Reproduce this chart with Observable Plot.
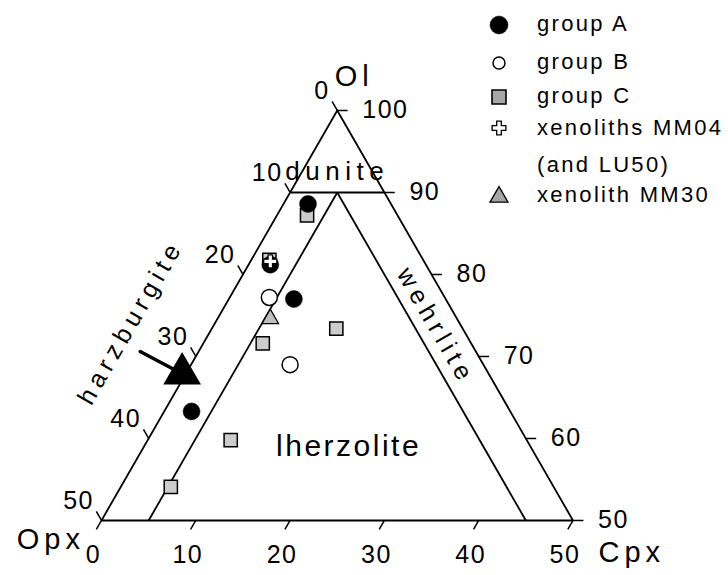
<!DOCTYPE html>
<html>
<head>
<meta charset="utf-8">
<script src="https://cdn.jsdelivr.net/npm/d3@7"></script>
<script src="https://cdn.jsdelivr.net/npm/@observablehq/plot@0.6"></script>
<style>
  body { margin: 0; background: #fff; }
  #wrap { position: relative; width: 728px; height: 575px; }
  #legend { position: absolute; left: 480px; top: 0; }
  svg text { font-family: "Liberation Sans", Arial, sans-serif; }
  g[aria-description="tick-labels"] text { letter-spacing: 1.5px; }
  g[aria-description="axis-title"] text { letter-spacing: 5px; }
  g[aria-description="field-label"] text { letter-spacing: 5.5px; }
  g[aria-description="field-label-big"] text { letter-spacing: 2.5px; }
  #legend text { letter-spacing: 2.3px; font-size: 22px; }
</style>
</head>
<body>
<div id="wrap"><div id="chart"></div><div id="legend"></div></div>
<script>
// ---------- data (ternary compositions, %) ----------
const groupA = [
  {ol: 88.6, opx: 8.8,  cpx: 2.6},
  {ol: 81.2, opx: 16.5, cpx: 2.3},
  {ol: 77.0, opx: 16.1, cpx: 6.9},
  {ol: 63.3, opx: 33.8, cpx: 2.9}
];
const groupB = [
  {ol: 77.2, opx: 18.6, cpx: 4.2},
  {ol: 69.0, opx: 20.5, cpx: 10.5}
];
const groupC = [
  {ol: 87.2, opx: 9.6,  cpx: 3.2},
  {ol: 81.8, opx: 16.3, cpx: 1.9},
  {ol: 73.4, opx: 13.4, cpx: 13.2},
  {ol: 71.6, opx: 22.1, cpx: 6.3},
  {ol: 59.8, opx: 31.4, cpx: 8.8},
  {ol: 54.1, opx: 40.6, cpx: 5.3}
];
const xenolithMM04 = [{ol: 81.6, opx: 16.3, cpx: 2.1}];
const xenolithMM30 = [{ol: 74.6, opx: 19.8, cpx: 5.6}];
const arrowPath = [{ol: 70.6, cpx: -6.2}, {ol: 67.9, cpx: -0.4}];

// diagram frame (Ol >= 50 part of the Ol-Opx-Cpx triangle)
const vertices = [{ol: 100, cpx: 0}, {ol: 50, cpx: 0}, {ol: 50, cpx: 50}];
const vertexNames = ["Ol", "Opx", "Cpx"];
const fieldLines = [
  {ol1: 90, cpx1: 0, ol2: 90, cpx2: 10},   // dunite limit (Ol = 90)
  {ol1: 90, cpx1: 5, ol2: 50, cpx2: 5},    // Cpx = 5
  {ol1: 90, cpx1: 5, ol2: 50, cpx2: 45}    // Opx = 5
];
const fieldNames = ["dunite", "harzburgite", "wehrlite", "lherzolite"];
const fieldLabelSpots = [
  {ol: 92.6, cpx: 3.7},
  {ol: 74.2, cpx: -9.0},
  {ol: 73.7, cpx: 23.6},
  {ol: 59.0, cpx: 21.7}
];

// tick values
const opxTicks = [0, 10, 20, 30, 40, 50];   // left edge
const olTicks  = [100, 90, 80, 70, 60, 50]; // right edge
const cpxTicks = [0, 10, 20, 30, 40, 50];   // bottom edge

// legend labels
const legendLabels = ["group A", "group B", "group C", "xenoliths MM04", "(and LU50)", "xenolith MM30"];

// ---------- ternary -> cartesian ----------
const H = Math.sqrt(3) / 2;
const TX = (ol, cpx) => cpx + ol / 2;
const TY = (ol) => ol * H;
const px = d => TX(d.ol, d.cpx);
const py = d => TY(d.ol);
const T = 1.1; // tick length (in %)

const FONT = "Liberation Sans, Arial, sans-serif";

const frame = [...vertices, vertices[0]];

const plot = Plot.plot({
  width: 728,
  height: 575,
  margin: 0,
  x: {domain: [14.29, 91.49], axis: null},
  y: {domain: [37.49, 98.22], axis: null},
  style: "background:white;font-family:'Liberation Sans',Arial,sans-serif;",
  marks: [
    // frame
    Plot.line(frame, {x: px, y: py, stroke: "black", strokeWidth: 1.8, strokeLinejoin: "miter"}),
    // field boundaries
    Plot.link(fieldLines, {
      x1: d => TX(d.ol1, d.cpx1), y1: d => TY(d.ol1),
      x2: d => TX(d.ol2, d.cpx2), y2: d => TY(d.ol2),
      stroke: "black", strokeWidth: 1.8
    }),
    // ticks left (constant Opx)
    Plot.link(opxTicks, {
      x1: o => TX(100 - o, 0), y1: o => TY(100 - o),
      x2: o => TX(100 - o + T, -T), y2: o => TY(100 - o + T),
      stroke: "black", strokeWidth: 1.5
    }),
    // ticks right (constant Ol)
    Plot.link(olTicks, {
      x1: v => TX(v, 100 - v), y1: v => TY(v),
      x2: v => TX(v, 100 - v) + T, y2: v => TY(v),
      stroke: "black", strokeWidth: 1.5
    }),
    // ticks bottom (constant Cpx)
    Plot.link(cpxTicks, {
      x1: c => TX(50, c), y1: () => TY(50),
      x2: c => TX(50 - T, c), y2: () => TY(50 - T),
      stroke: "black", strokeWidth: 1.5
    }),
    // tick labels
    Plot.text(opxTicks, {
      x: o => TX(100 - o, 0), y: o => TY(100 - o), text: o => String(o),
      textAnchor: "end", dx: -7.5, dy: -19, fontSize: 25, fontFamily: FONT, fill: "black",
      ariaDescription: "tick-labels"
    }),
    Plot.text(olTicks, {
      x: v => TX(v, 100 - v), y: v => TY(v), text: v => String(v),
      textAnchor: "start", dx: 25, dy: 0, fontSize: 25, fontFamily: FONT, fill: "black",
      ariaDescription: "tick-labels"
    }),
    Plot.text(cpxTicks, {
      x: c => TX(50, c), y: () => TY(50), text: c => String(c),
      textAnchor: "middle", dx: -8, dy: 35, fontSize: 25, fontFamily: FONT, fill: "black",
      ariaDescription: "tick-labels"
    }),
    // vertex names
    Plot.text([vertices[0]], {x: px, y: py, text: () => vertexNames[0],
      textAnchor: "middle", dx: 17, dy: -34, fontSize: 29, fontFamily: FONT, fill: "black", ariaDescription: "axis-title"}),
    Plot.text([vertices[1]], {x: px, y: py, text: () => vertexNames[1],
      textAnchor: "end", dx: -16.5, dy: 19, fontSize: 29, fontFamily: FONT, fill: "black", ariaDescription: "axis-title"}),
    Plot.text([vertices[2]], {x: px, y: py, text: () => vertexNames[2],
      textAnchor: "start", dx: 25.5, dy: 32, fontSize: 29, fontFamily: FONT, fill: "black", ariaDescription: "axis-title"}),
    // field names
    Plot.text([fieldLabelSpots[0]], {x: px, y: py, text: () => fieldNames[0],
      fontSize: 26, fontFamily: FONT, fill: "black", ariaDescription: "field-label"}),
    Plot.text([fieldLabelSpots[1]], {x: px, y: py, text: () => fieldNames[1], rotate: -60,
      fontSize: 25, fontFamily: FONT, fill: "black", ariaDescription: "field-label"}),
    Plot.text([fieldLabelSpots[2]], {x: px, y: py, text: () => fieldNames[2], rotate: 60,
      fontSize: 25, fontFamily: FONT, fill: "black", ariaDescription: "field-label"}),
    Plot.text([fieldLabelSpots[3]], {x: px, y: py, text: () => fieldNames[3],
      fontSize: 30, fontFamily: FONT, fill: "black", ariaDescription: "field-label-big"}),
    // arrow
    Plot.line(arrowPath, {x: px, y: py, stroke: "black", strokeWidth: 3.5}),
    Plot.dot([arrowPath[1]], {x: px, y: py, symbol: "triangle", r: 14, fill: "black", stroke: "none"}),
    // samples
    Plot.dot(groupC, {x: px, y: py, symbol: "square", r: 7.45, fill: "#cccccc", stroke: "black", strokeWidth: 1.5}),
    Plot.dot(groupA, {x: px, y: py, symbol: "circle", r: 8.5, fill: "black", stroke: "black", strokeWidth: 0.5}),
    Plot.dot(groupB, {x: px, y: py, symbol: "circle", r: 8, fill: "white", stroke: "black", strokeWidth: 1.5}),
    Plot.dot(xenolithMM30, {x: px, y: py, symbol: "triangle", r: 6.2, fill: "#bfbfbf", stroke: "black", strokeWidth: 1.2}),
    Plot.dot(xenolithMM04, {x: px, y: py, symbol: "cross", r: 5.5, fill: "white", stroke: "black", strokeWidth: 1.2})
  ]
});
document.getElementById("chart").appendChild(plot);

// ---------- legend ----------
const lg = d3.select("#legend").append("svg").attr("width", 248).attr("height", 215);
const legendMarkers = [
  {type: d3.symbolCircle, size: Math.PI * 81, fill: "black", stroke: "black", sw: 0.5},
  {type: d3.symbolCircle, size: Math.PI * 36, fill: "white", stroke: "black", sw: 1.5},
  {type: d3.symbolSquare, size: 14 * 14, fill: "#a6a6a6", stroke: "black", sw: 1.6},
  {type: d3.symbolCross, size: 5 * 21, fill: "white", stroke: "black", sw: 1.3},
  null,
  {type: d3.symbolTriangle, size: 18 * 18 * Math.sqrt(3) / 4, fill: "#a6a6a6", stroke: "black", sw: 1.3}
];
const markerY = [25, 63, 97, 128, 0, 197];
const textY = [23, 61, 95, 127, 164.5, 194.5];
legendLabels.forEach((lab, i) => {
  const m = legendMarkers[i];
  if (m) {
    lg.append("path")
      .attr("d", d3.symbol(m.type, m.size)())
      .attr("transform", `translate(19,${markerY[i]})`)
      .attr("fill", m.fill).attr("stroke", m.stroke).attr("stroke-width", m.sw);
  }
  lg.append("text").attr("x", 57).attr("y", textY[i]).attr("dy", "0.35em")
    .attr("fill", "black").text(lab);
});
</script>
</body>
</html>
